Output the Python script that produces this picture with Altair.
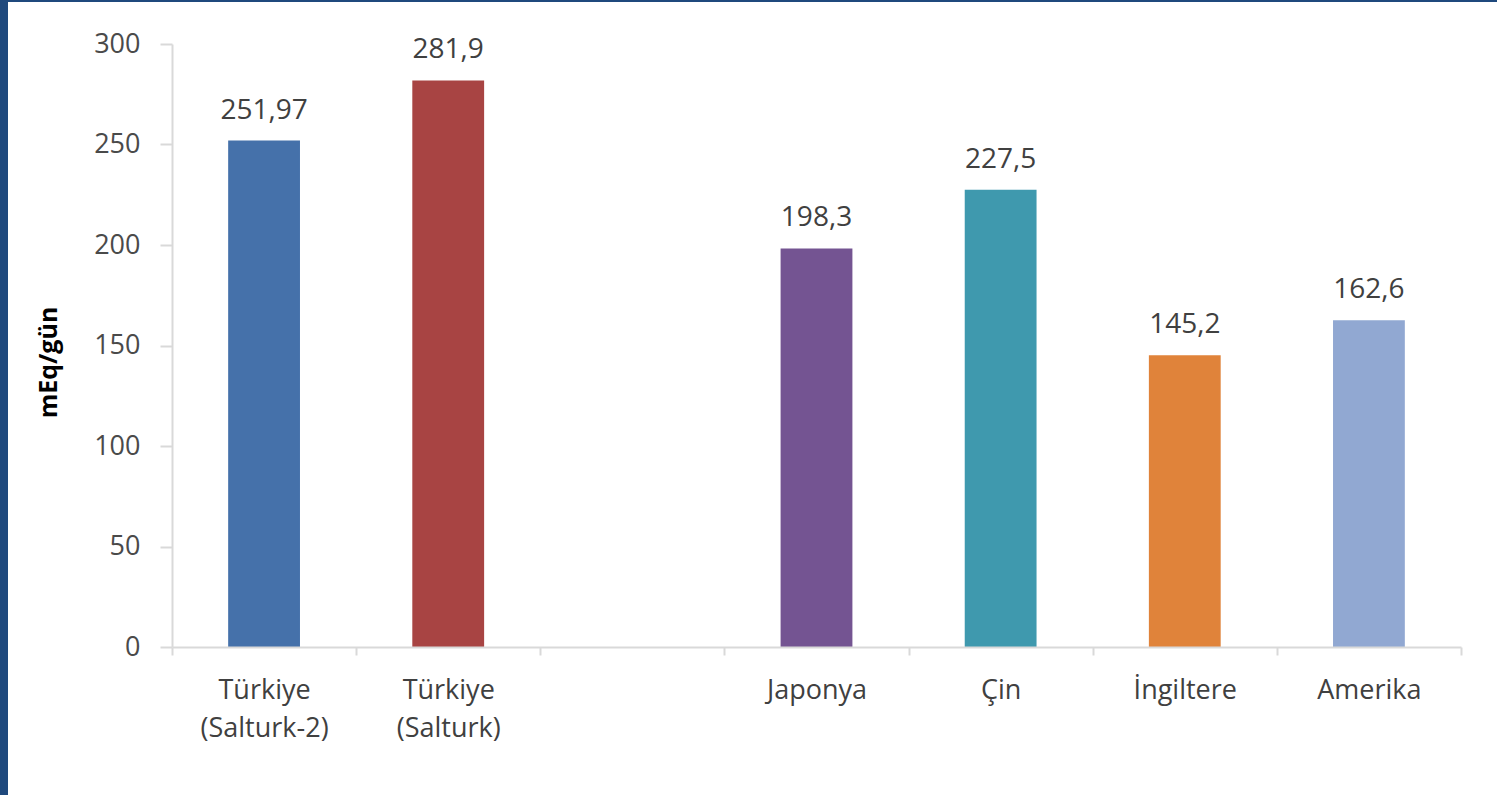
import altair as alt
import pandas as pd

categories = ["Türkiye|(Salturk-2)", "Türkiye|(Salturk)", " ", "Japonya", "Çin", "İngiltere", "Amerika"]
bar_categories = ["Türkiye|(Salturk-2)", "Türkiye|(Salturk)", "Japonya", "Çin", "İngiltere", "Amerika"]
values = [251.97, 281.9, 198.3, 227.5, 145.2, 162.6]
value_labels = ["251,97", "281,9", "198,3", "227,5", "145,2", "162,6"]
colors = ["#4571AA", "#A84443", "#745492", "#3F99AE", "#E0833A", "#91A8D2"]

df = pd.DataFrame({"cat": bar_categories, "val": values, "lab": value_labels})

W, H = 1289, 603
PL, PT = 172, 44

xscale = alt.Scale(domain=categories, paddingInner=0, paddingOuter=0)
yscale = alt.Scale(domain=[0, 300], nice=False)

frame = alt.Chart(alt.Data(values=[{}])).mark_rect(color="white").encode(
    x=alt.value(8 - PL), x2=alt.value(1497 - PL), y=alt.value(2 - PT), y2=alt.value(795 - PT)
)

bars = alt.Chart(df).mark_bar(width=alt.RelativeBandSize(0.39)).encode(
    x=alt.X("cat:N", scale=xscale, sort=categories, title=None,
            axis=alt.Axis(labelExpr="split(datum.label, '|')", labelAngle=0, zindex=1,
                          tickBand="extent", labelLineHeight=38, labelPadding=22,
                          tickSize=8, tickColor="#d9d9d9", domainColor="#d9d9d9",
                          domainWidth=2, tickWidth=2,
                          labelFontSize=27, labelColor="#404040", labelFont="Open Sans")),
    y=alt.Y("val:Q", scale=yscale, title="mEq/gün",
            axis=alt.Axis(values=[0, 50, 100, 150, 200, 250, 300], grid=False, zindex=1,
                          tickSize=12, tickColor="#d9d9d9", domainColor="#d9d9d9",
                          domainWidth=2, tickWidth=2, labelPadding=20,
                          labelFontSize=27, labelColor="#4a4a4a", labelFont="Open Sans",
                          titleFont="Open Sans", titleFontSize=25, titleFontWeight="bold",
                          titleColor="#000000", titleX=-124, titleY=318,
                          titleBaseline="middle", titleAlign="center", titleAngle=270)),
    color=alt.Color("cat:N", scale=alt.Scale(domain=bar_categories, range=colors), legend=None),
)

texts = alt.Chart(df).mark_text(baseline="alphabetic", dy=-22, font="Open Sans",
                                fontSize=28, color="#404040").encode(
    x=alt.X("cat:N", scale=xscale, sort=categories),
    y=alt.Y("val:Q", scale=yscale),
    text="lab:N",
)

chart = alt.layer(frame, bars, texts).properties(
    width=W, height=H,
    autosize=alt.AutoSizeParams(type="none"),
    padding={"left": PL, "top": PT, "right": 1497 - PL - W, "bottom": 795 - PT - H},
    background="#1F497D",
).configure_view(stroke=None)

chart.save("out.html", embed_options={"renderer": "svg", "actions": False})
